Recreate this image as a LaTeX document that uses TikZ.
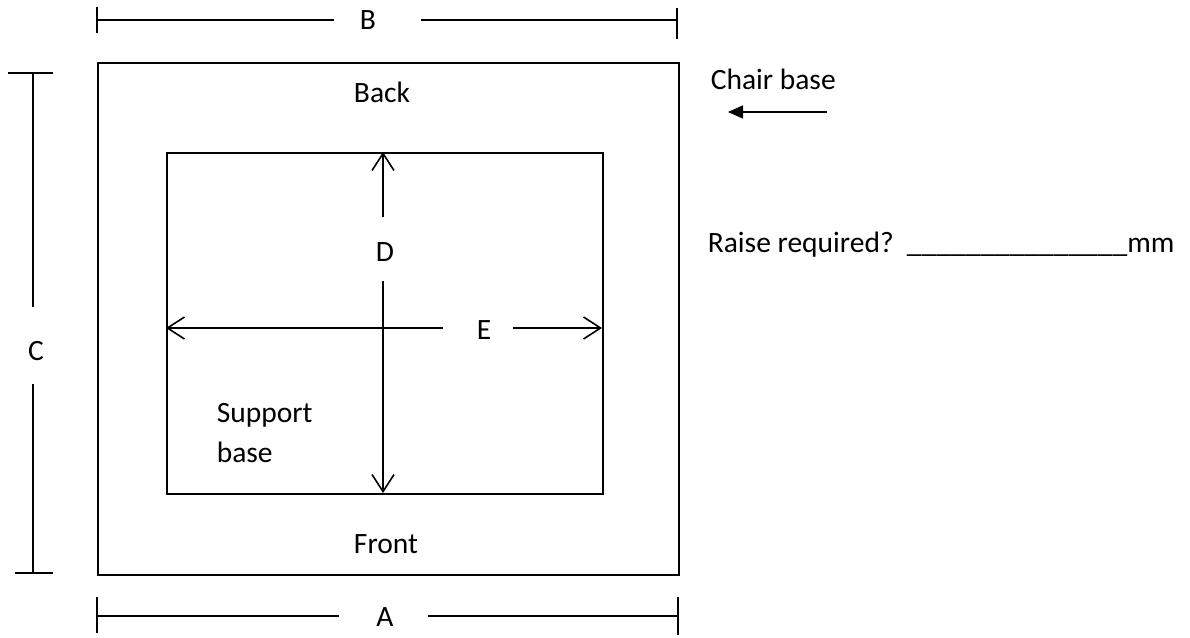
\documentclass[tikz,border=0pt]{standalone}
\usepackage{fontspec}
\setmainfont{Carlito}
\usetikzlibrary{arrows.meta}
\begin{document}
\begin{tikzpicture}[x=1pt,y=-1pt,line width=1.6pt,
  lbl/.style={font=\fontsize{29.5}{35}\selectfont,inner sep=0pt},
  barb/.style={-{Straight Barb[length=17pt,width=22pt,line width=1.6pt]}},
  solidarrow/.style={-{Triangle[length=15pt,width=13pt]}}]
\useasboundingbox (0,0) rectangle (1190,637);
% outer and inner rectangles
\node (outer) [draw,inner sep=0pt,minimum width=581pt,minimum height=512pt,anchor=north west] at (97,62) {};
\node (inner) [draw,inner sep=0pt,minimum width=436pt,minimum height=341pt,anchor=north west] at (166,152) {};
% dimension B
\node[lbl] (B) at (368,20) {B};
\coordinate (b1) at (97,20); \coordinate (b2) at (334,20);
\coordinate (b3) at (421,20); \coordinate (b4) at (677,20);
\draw (b1) -- (b2); \draw (b3) -- (b4);
\draw (97,7) -- (97,33); \draw (677,8) -- (677,39);
% dimension A
\node[lbl] (A) at (385,617) {A};
\coordinate (a1) at (97,616); \coordinate (a2) at (339,616);
\coordinate (a3) at (428,616); \coordinate (a4) at (678,616);
\draw (a1) -- (a2); \draw (a3) -- (a4);
\draw (97,597) -- (97,633); \draw (678,597) -- (678,635);
% dimension C
\node[lbl] (C) at (36,351) {C};
\coordinate (c1) at (33,73); \coordinate (c2) at (33,307);
\coordinate (c3) at (33,384); \coordinate (c4) at (33,573);
\draw (c1) -- (c2); \draw (c3) -- (c4);
\draw (8,73) -- (53,73); \draw (15,573) -- (53,573);
% dimension D
\node[lbl] (D) at (385,252) {D};
\coordinate (d1) at (383,217); \coordinate (d2) at (383,152);
\coordinate (d3) at (383,281); \coordinate (d4) at (383,493);
\draw[barb] (d1) -- (d2); \draw[barb] (d3) -- (d4);
% dimension E
\node[lbl] (E) at (484,330) {E};
\coordinate (e1) at (443,328); \coordinate (e2) at (166,328);
\coordinate (e3) at (513,328); \coordinate (e4) at (602,328);
\draw[barb] (e1) -- (e2); \draw[barb] (e3) -- (e4);
% labels
\node[lbl,anchor=base] (back) at (382,102) {Back};
\node[lbl,anchor=base] (front) at (386,553) {Front};
\node[lbl,anchor=base west] (support) at (216,422) {Support};
\node[lbl,anchor=base west] (sbase) at (216,462) {base};
\node[lbl,anchor=base west] (chair) at (710,89) {Chair base};
\coordinate (ch1) at (827,112); \coordinate (ch2) at (728,112);
\draw[solidarrow] (ch1) -- (ch2);
\node[lbl,anchor=base west] (raise) at (707,252) {Raise required?\hspace{0.45em}\_\_\_\_\_\_\_\_\_\_\_\_\_\_\_mm};
\end{tikzpicture}
\end{document}
